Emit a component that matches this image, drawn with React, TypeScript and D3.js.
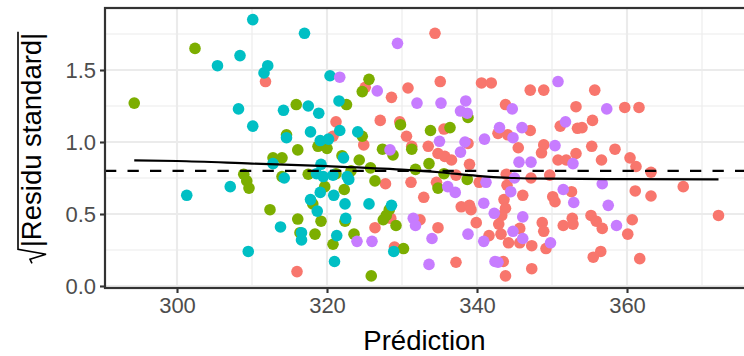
import { useEffect, useRef } from "react";
import * as d3 from "d3";

// points: [prediction, sqrt(|standardised residual|)]
const redPts: [number, number][] = [
  [311.8, 1.42], [325.1, 1.38], [328.6, 1.31], [330.8, 1.375], [321.2, 1.14], [327.1, 1.15],
  [329.7, 1.14], [330.6, 1.04], [320.8, 1.04], [324.9, 0.98], [331.3, 0.97], [334.4, 1.755],
  [335.1, 1.42], [340.6, 1.41], [341.9, 1.41], [347.1, 1.36], [348.9, 1.36], [343.8, 1.26],
  [353.2, 1.245], [335.6, 1.09], [333.5, 0.97], [342.8, 1.06], [344.1, 1.05], [347.1, 1.08],
  [351.1, 1.11], [338.8, 0.99], [345.5, 0.96], [348.9, 0.98], [348.6, 0.925], [353.4, 1.095],
  [334.8, 0.92], [355.7, 1.36], [359.7, 1.24], [361.6, 1.24], [355.4, 1.15], [354.0, 1.1],
  [355.3, 0.97], [358.4, 0.95], [327.8, 0.71], [331.2, 0.72], [328.5, 0.47], [326.4, 0.405],
  [329.0, 0.27], [316.0, 0.1], [335.7, 0.9], [336.6, 0.875], [339.0, 0.845], [337.2, 0.77],
  [334.6, 0.72], [340.3, 0.72], [332.9, 0.616], [337.9, 0.55], [339.0, 0.56], [339.2, 0.53],
  [343.6, 0.6], [343.8, 0.54], [343.3, 0.49], [350.8, 0.875], [351.9, 0.875], [353.2, 0.92],
  [343.9, 0.776], [347.2, 0.75], [349.7, 0.77], [344.0, 0.7], [346.1, 0.63], [350.1, 0.62],
  [350.4, 0.585], [352.6, 0.655], [332.4, 0.46], [334.8, 0.405], [339.9, 0.44], [342.9, 0.43],
  [341.6, 0.35], [343.2, 0.36], [345.7, 0.4], [344.2, 0.3], [345.7, 0.3], [347.3, 0.28],
  [348.7, 0.44], [348.9, 0.38], [349.2, 0.26], [351.5, 0.42], [352.7, 0.47], [352.8, 0.43],
  [337.2, 0.165], [343.5, 0.17], [343.8, 0.07], [347.3, 0.12], [356.6, 0.875], [360.4, 0.89],
  [361.2, 0.83], [363.2, 0.79], [361.1, 0.66], [363.2, 0.625], [367.5, 0.69], [355.2, 0.49],
  [355.9, 0.45], [356.7, 0.4], [360.7, 0.46], [360.1, 0.36], [372.2, 0.49], [356.5, 0.24],
  [355.5, 0.2], [361.7, 0.19],
];

const greenPts: [number, number][] = [
  [302.4, 1.65], [294.3, 1.27], [325.6, 1.435], [324.7, 1.35], [322.6, 1.26], [315.9, 1.26],
  [329.8, 1.12], [324.7, 1.04], [314.6, 1.05], [316.1, 0.945], [318.8, 0.97], [320.0, 0.956],
  [327.4, 0.95], [331.3, 0.95], [338.8, 1.17], [333.8, 1.08], [336.4, 1.1], [308.9, 0.776],
  [309.3, 0.73], [309.6, 0.68], [312.8, 0.89], [314.0, 0.89], [322.0, 0.905], [324.3, 0.875],
  [328.8, 0.91], [317.5, 0.776], [321.2, 0.78], [323.2, 0.8], [325.8, 0.82], [326.4, 0.73],
  [331.8, 0.81], [314.0, 0.76], [319.7, 0.69], [322.3, 0.67], [318.1, 0.57], [328.3, 0.53],
  [327.9, 0.49], [327.5, 0.46], [312.4, 0.53], [316.1, 0.465], [319.2, 0.45], [322.4, 0.45],
  [329.2, 0.42], [316.4, 0.37], [318.4, 0.36], [323.6, 0.36], [320.8, 0.29], [330.2, 0.26],
  [325.9, 0.07], [333.6, 0.85], [335.6, 0.78], [338.7, 0.74], [334.8, 0.68],
];

const cyanPts: [number, number][] = [
  [310.1, 1.85], [308.4, 1.6], [305.4, 1.53], [308.2, 1.23], [310.1, 1.11], [317.0, 1.755],
  [312.1, 1.53], [311.6, 1.48], [320.4, 1.46], [321.6, 1.285], [314.2, 1.22], [317.5, 1.25],
  [318.9, 1.2], [321.7, 1.08], [317.8, 1.07], [324.1, 1.07], [314.6, 1.03], [319.1, 1.01],
  [320.2, 1.02], [307.1, 0.69], [301.3, 0.63], [309.5, 0.24], [312.8, 0.85], [322.2, 0.89],
  [319.2, 0.845], [318.6, 0.78], [319.5, 0.76], [320.8, 0.77], [322.7, 0.76], [322.9, 0.74],
  [314.3, 0.75], [319.1, 0.65], [320.9, 0.63], [317.8, 0.6], [318.7, 0.52], [322.4, 0.57],
  [325.6, 0.57], [328.6, 0.56], [322.5, 0.47], [313.8, 0.41], [316.6, 0.37], [316.6, 0.32],
  [321.3, 0.35], [328.9, 0.24], [321.0, 0.17],
];

const purplePts: [number, number][] = [
  [329.4, 1.685], [321.7, 1.45], [326.7, 1.355], [332.0, 1.27], [328.4, 0.945], [350.8, 1.42],
  [335.2, 1.27], [338.5, 1.285], [337.8, 1.215], [338.7, 1.2], [344.7, 1.23], [335.0, 1.005],
  [343.0, 1.1], [344.8, 1.03], [341.0, 1.02], [346.0, 1.1], [351.8, 1.14], [338.4, 1.0],
  [350.4, 0.975], [357.3, 1.23], [331.5, 0.47], [331.8, 0.42], [324.0, 0.31], [326.0, 0.31],
  [337.8, 0.93], [336.1, 0.69], [337.1, 0.65], [341.2, 0.72], [340.9, 0.575], [342.3, 0.505],
  [345.6, 0.86], [347.2, 0.86], [352.8, 0.85], [345.0, 0.75], [344.5, 0.655], [351.5, 0.67],
  [352.9, 0.58], [346.1, 0.48], [334.0, 0.33], [338.8, 0.36], [340.9, 0.31], [344.8, 0.38],
  [346.1, 0.33], [349.8, 0.3], [333.6, 0.15], [342.4, 0.17], [342.8, 0.165], [356.7, 0.71],
  [357.5, 0.56], [358.6, 0.42],
];

// smoothed trend
const smoothX = [294.3, 300, 310, 320, 330, 335, 340, 345, 350, 360, 372.2];
const smoothY = [0.873, 0.868, 0.85, 0.832, 0.808, 0.79, 0.765, 0.75, 0.745, 0.742, 0.74];

const refLine = 0.8;

const xTicks = [300, 320, 340, 360];
const xMinor = [310, 330, 350, 370];
const yTicks = [0, 0.5, 1, 1.5];
const yMinor = [0.25, 0.75, 1.25, 1.75];

const groups = [
  { pts: redPts, color: "#F8766D" },
  { pts: greenPts, color: "#7CAE00" },
  { pts: cyanPts, color: "#00BFC4" },
  { pts: purplePts, color: "#C77CFF" },
];

const width = 744;
const height = 356;
const margin = { top: 8, right: 0, bottom: 68, left: 105 };
const font = "'Liberation Sans', Arial, sans-serif";

function drawChart(svg: any) {
  const x = d3
    .scaleLinear()
    .domain([290.4, 375.6])
    .range([margin.left, width - margin.right]);
  const y = d3
    .scaleLinear()
    .domain([-0.0139, 1.9306])
    .range([height - margin.bottom, margin.top]);

  const top = margin.top;
  const bottom = height - margin.bottom;
  const left = margin.left;
  const right = width - margin.right;

  svg.append("rect").attr("x", left).attr("y", top).attr("width", right - left).attr("height", bottom - top).attr("fill", "white");

  // grid
  const grid = svg.append("g");
  grid.selectAll(".vmin").data(xMinor).join("line")
    .attr("x1", (d: number) => x(d)).attr("x2", (d: number) => x(d))
    .attr("y1", top).attr("y2", bottom)
    .attr("stroke", "#EBEBEB").attr("stroke-width", 1.1);
  grid.selectAll(".hmin").data(yMinor).join("line")
    .attr("y1", (d: number) => y(d)).attr("y2", (d: number) => y(d))
    .attr("x1", left).attr("x2", right)
    .attr("stroke", "#EBEBEB").attr("stroke-width", 1.1);
  grid.selectAll(".vmaj").data(xTicks).join("line")
    .attr("x1", (d: number) => x(d)).attr("x2", (d: number) => x(d))
    .attr("y1", top).attr("y2", bottom)
    .attr("stroke", "#EBEBEB").attr("stroke-width", 2.1);
  grid.selectAll(".hmaj").data(yTicks).join("line")
    .attr("y1", (d: number) => y(d)).attr("y2", (d: number) => y(d))
    .attr("x1", left).attr("x2", right)
    .attr("stroke", "#EBEBEB").attr("stroke-width", 2.1);

  // points
  groups.forEach((g) => {
    svg.append("g").selectAll("circle").data(g.pts).join("circle")
      .attr("cx", (d: [number, number]) => x(d[0]))
      .attr("cy", (d: [number, number]) => y(d[1]))
      .attr("r", 5.8)
      .attr("fill", g.color);
  });

  // smooth
  const smooth = smoothX.map((v, i) => [v, smoothY[i]] as [number, number]);
  svg.append("path")
    .datum(smooth)
    .attr("fill", "none")
    .attr("stroke", "black")
    .attr("stroke-width", 2.2)
    .attr("d", d3.line<[number, number]>().x((d) => x(d[0])).y((d) => y(d[1])).curve(d3.curveMonotoneX));

  // reference line
  svg.append("line")
    .attr("x1", left).attr("x2", right)
    .attr("y1", y(refLine)).attr("y2", y(refLine))
    .attr("stroke", "black").attr("stroke-width", 2.2)
    .attr("stroke-dasharray", "11.3,11.2");

  // panel border
  svg.append("rect").attr("x", left).attr("y", top).attr("width", right - left + 4).attr("height", bottom - top)
    .attr("fill", "none").attr("stroke", "#333333").attr("stroke-width", 2.2);

  // x axis
  const xAxis = svg.append("g").attr("transform", "translate(0," + bottom + ")")
    .call(d3.axisBottom(x).tickValues(xTicks).tickSize(5).tickPadding(4).tickFormat(d3.format("d")));
  xAxis.select(".domain").remove();
  xAxis.selectAll("line").attr("stroke", "#333333").attr("stroke-width", 2.1);
  xAxis.selectAll("text").attr("fill", "#4D4D4D").style("font-size", "22px").style("font-family", font);

  // y axis
  const yAxis = svg.append("g").attr("transform", "translate(" + left + ",0)")
    .call(d3.axisLeft(y).tickValues(yTicks).tickSize(5).tickPadding(4).tickFormat(d3.format(".1f")));
  yAxis.select(".domain").remove();
  yAxis.selectAll("line").attr("stroke", "#333333").attr("stroke-width", 2.1);
  yAxis.selectAll("text").attr("fill", "#4D4D4D").style("font-size", "22px").style("font-family", font);

  // titles
  svg.append("text")
    .attr("x", (left + right) / 2).attr("y", 350)
    .attr("text-anchor", "middle")
    .style("font-family", font).style("font-size", "27.5px").attr("fill", "black")
    .text("Prédiction");

  const yt = svg.append("g").attr("transform", "translate(41," + (top + bottom) / 2 + ") rotate(-90)");
  const label = yt.append("text")
    .attr("x", 8).attr("y", 0)
    .attr("text-anchor", "middle")
    .style("font-family", font).style("font-size", "27.5px").attr("fill", "black")
    .text("|Residu standard|");
  const len = label.node().getComputedTextLength();
  const u0 = 8 - len / 2 - 16;
  const uEnd = 8 + len / 2 + 1;
  yt.append("path")
    .attr("d", `M${u0},-9 L${u0 + 4},-11 L${u0 + 9},5 L${u0 + 14},-23 L${uEnd},-23`)
    .attr("fill", "none").attr("stroke", "black").attr("stroke-width", 1.6)
    .attr("stroke-linejoin", "miter");
}

export default function App() {
  const ref = useRef<SVGSVGElement>(null);
  useEffect(() => {
    const svg = d3.select(ref.current);
    svg.selectAll("*").remove();
    drawChart(svg);
  }, []);
  return (
    <div style={{ position: "absolute", left: 0, top: 0, background: "white" }}>
      <svg ref={ref} width={width} height={height} style={{ display: "block" }}></svg>
    </div>
  );
}
